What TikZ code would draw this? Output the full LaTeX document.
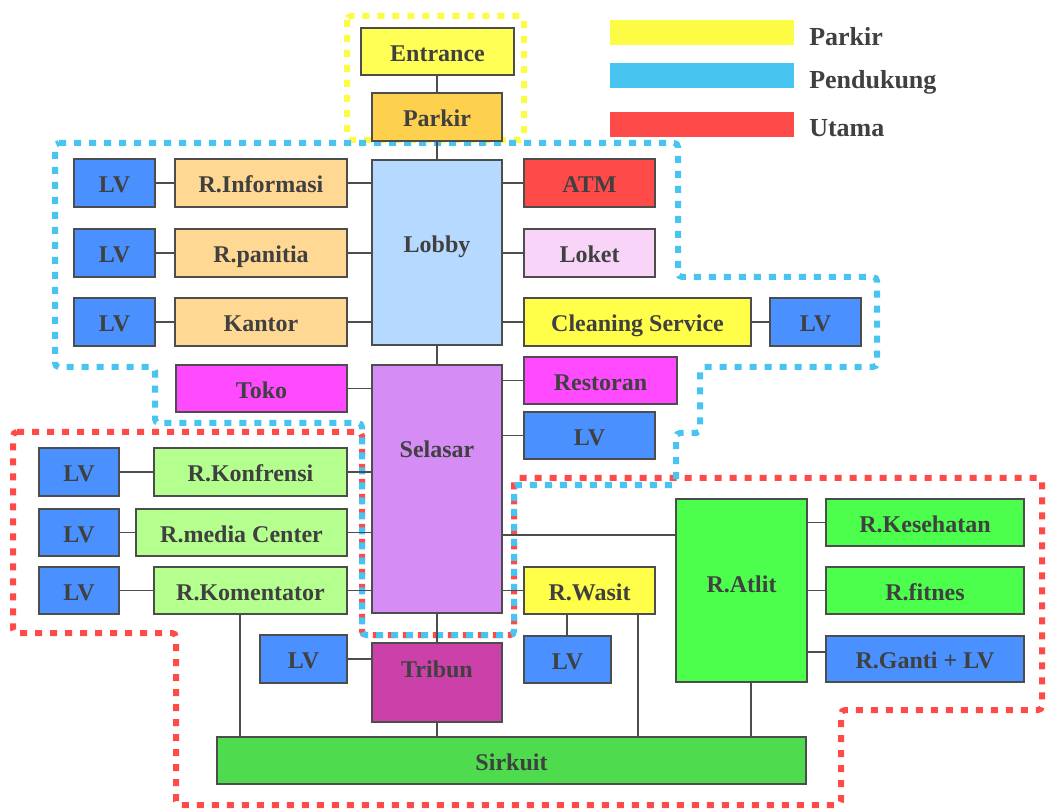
\documentclass[tikz,border=0pt]{standalone}
\usepackage{fontspec}
\setmainfont{Liberation Serif}
\definecolor{bordc}{HTML}{4D4D4D}
\definecolor{linec}{HTML}{4D4D4D}
\definecolor{txtc}{HTML}{404040}
\definecolor{cEntr}{HTML}{FFFF55}
\definecolor{cPark}{HTML}{FDD04D}
\definecolor{cLobby}{HTML}{B5D9FF}
\definecolor{cLV}{HTML}{4A90FF}
\definecolor{cOrange}{HTML}{FFD894}
\definecolor{cATM}{HTML}{FF4A4A}
\definecolor{cLoket}{HTML}{F9D4F9}
\definecolor{cYel}{HTML}{FFFF4A}
\definecolor{cMag}{HTML}{FF4AFF}
\definecolor{cSelasar}{HTML}{D68CF5}
\definecolor{cLgreen}{HTML}{B5FF8F}
\definecolor{cGreen}{HTML}{4DFF4D}
\definecolor{cTribun}{HTML}{CC40AA}
\definecolor{cSirk}{HTML}{4EDC4E}
\definecolor{zyellow}{HTML}{FCFC45}
\definecolor{zblue}{HTML}{47C4F0}
\definecolor{zred}{HTML}{FF4A4A}
\tikzset{
  box/.style={draw=bordc, line width=1.5pt, inner sep=0pt,
    font=\fontsize{18}{20}\selectfont\bfseries, text=txtc,
    text height=14.9pt, text depth=0pt},
  conn/.style={draw=linec, line width=1.2pt},
  zone/.style={line width=4.5pt, dash pattern=on 5.25pt off 6pt, rounded corners=3pt},
  legtxt/.style={anchor=west, inner sep=0pt, font=\fontsize{19.5}{22}\selectfont\bfseries, text=txtc},
}
\newcommand\mybox[8][]{\node[box,fill=#7,minimum width={(#4-#2)*0.75pt},minimum height={(#5-#3)*0.75pt},#1] (#6) at ({(#2+#4)/2},{(#3+#5)/2}) {#8};}
\begin{document}
\begin{tikzpicture}[x=0.75pt,y=-0.75pt]
\useasboundingbox (0,0) rectangle (1049,812);
\fill[white] (0,0) rectangle (1049,812);
% zones
\draw[zone, draw=zyellow] (347,16) rectangle (524,140);
\draw[zone, draw=zred] (13,432) -- (362,432) -- (362,635) -- (514,635) -- (514,478) -- (1042,478) -- (1042,710) -- (841,710) -- (841,805) -- (176,805) -- (176,633) -- (13,633) -- cycle;
\draw[zone, draw=zblue] (55,143) -- (678,143) -- (678,277) -- (877,277) -- (877,367) -- (700,367) -- (700,433) -- (676,433) -- (676,485) -- (514,485) -- (514,635) -- (362,635) -- (362,423) -- (155,423) -- (155,367) -- (55,367) -- cycle;
% legend
\fill[zyellow] (610,20) rectangle (794,45);
\fill[zblue] (610,63) rectangle (794,88);
\fill[zred] (610,112) rectangle (794,137);
\node[legtxt] (lgp) at (809,37) {Parkir};
\node[legtxt] (lgd) at (809,82) {Pendukung};
\node[legtxt] (lgu) at (809,128) {Utama};
% boxes
\mybox{361}{28}{514}{75}{entr}{cEntr}{Entrance}
\mybox{372}{93}{502}{141}{park}{cPark}{Parkir}
\mybox[text depth=15.5pt]{372}{160}{502}{345}{lobby}{cLobby}{Lobby}
\mybox{74}{159}{155}{207}{lv1}{cLV}{LV}
\mybox{74}{229}{155}{277}{lv2}{cLV}{LV}
\mybox{74}{298}{155}{346}{lv3}{cLV}{LV}
\mybox{175}{159}{347}{207}{rinfo}{cOrange}{R.Informasi}
\mybox{175}{229}{347}{277}{rpan}{cOrange}{R.panitia}
\mybox{175}{298}{347}{346}{kantor}{cOrange}{Kantor}
\mybox{524}{159}{655}{207}{atm}{cATM}{ATM}
\mybox{524}{229}{655}{277}{loket}{cLoket}{Loket}
\mybox{524}{298}{751}{346}{clean}{cYel}{Cleaning Service}
\mybox{770}{298}{861}{346}{lvc}{cLV}{LV}
\mybox[text depth=62.3pt]{372}{365}{502}{613}{selasar}{cSelasar}{Selasar}
\mybox{176}{365}{347}{412}{toko}{cMag}{Toko}
\mybox{524}{357}{677}{404}{resto}{cMag}{Restoran}
\mybox{524}{412}{655}{459}{lvs}{cLV}{LV}
\mybox{39}{448}{119}{496}{lv4}{cLV}{LV}
\mybox{39}{509}{119}{556}{lv5}{cLV}{LV}
\mybox{39}{567}{119}{614}{lv6}{cLV}{LV}
\mybox{154}{448}{347}{496}{rkonf}{cLgreen}{R.Konfrensi}
\mybox{136}{509}{347}{556}{rmedia}{cLgreen}{R.media Center}
\mybox{154}{567}{347}{614}{rkom}{cLgreen}{R.Komentator}
\mybox{524}{567}{655}{614}{rwasit}{cYel}{R.Wasit}
\mybox{524}{636}{611}{683}{lvw}{cLV}{LV}
\mybox{260}{635}{347}{683}{lvt}{cLV}{LV}
\mybox[text depth=23pt]{372}{643}{502}{722}{tribun}{cTribun}{Tribun}
\mybox[text depth=12.5pt]{676}{499}{807}{682}{ratlit}{cGreen}{R.Atlit}
\mybox{826}{499}{1024}{546}{rkes}{cGreen}{R.Kesehatan}
\mybox{826}{567}{1024}{614}{rfit}{cGreen}{R.fitnes}
\mybox{826}{636}{1024}{682}{rganti}{cLV}{R.Ganti + LV}
\mybox{217}{737}{806}{784}{sirkuit}{cSirk}{Sirkuit}
% connectors
\draw[conn] (park.north) -- (park.north |- entr.south);
\draw[conn] (park.south) -- (lobby.north);
\draw[conn] (lobby.south) -- (selasar.north);
\draw[conn] (selasar.south) -- (tribun.north);
\draw[conn] (tribun.south) -- (tribun.south |- sirkuit.north);
\draw[conn] (lv1.east) -- (rinfo.west);
\draw[conn] (lv2.east) -- (rpan.west);
\draw[conn] (lv3.east) -- (kantor.west);
\draw[conn] (rinfo.east) -- (rinfo.east -| lobby.west);
\draw[conn] (rpan.east) -- (rpan.east -| lobby.west);
\draw[conn] (kantor.east) -- (kantor.east -| lobby.west);
\draw[conn] (atm.west) -- (atm.west -| lobby.east);
\draw[conn] (loket.west) -- (loket.west -| lobby.east);
\draw[conn] (clean.west) -- (clean.west -| lobby.east);
\draw[conn] (clean.east) -- (lvc.west);
\draw[conn] (toko.east) -- (toko.east -| selasar.west);
\draw[conn] (resto.west) -- (resto.west -| selasar.east);
\draw[conn] (lvs.west) -- (lvs.west -| selasar.east);
\draw[conn] (lv4.east) -- (rkonf.west);
\draw[conn] (lv5.east) -- (rmedia.west);
\draw[conn] (lv6.east) -- (rkom.west);
\draw[conn] (rkonf.east) -- (rkonf.east -| selasar.west);
\draw[conn] (rmedia.east) -- (rmedia.east -| selasar.west);
\draw[conn] (rkom.east) -- (rkom.east -| selasar.west);
\draw[conn] (rwasit.west) -- (rwasit.west -| selasar.east);
\draw[conn] (ratlit.west |- 0,535) -- (selasar.east |- 0,535);
\draw[conn] (rkes.west) -- (rkes.west -| ratlit.east);
\draw[conn] (rfit.west) -- (rfit.west -| ratlit.east);
\draw[conn] (rganti.west |- 0,652) -- (ratlit.east |- 0,652);
\draw[conn] (lvt.east) -- (lvt.east -| tribun.west);
\draw[conn] (rwasit.south -| 567,0) -- (lvw.north -| 567,0);
\draw[conn] (rwasit.south -| 638,0) -- (sirkuit.north -| 638,0);
\draw[conn] (rkom.south -| 240,0) -- (sirkuit.north -| 240,0);
\draw[conn] (ratlit.south -| 751,0) -- (sirkuit.north -| 751,0);
\end{tikzpicture}
\end{document}
